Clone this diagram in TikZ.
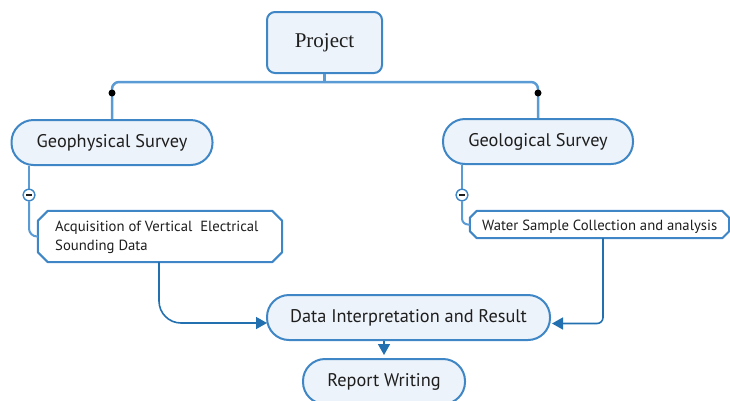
\documentclass[tikz,border=0pt]{standalone}
\usepackage{fontspec}
\setsansfont{PT Sans}
\newfontfamily\projfont{Liberation Serif}
\usetikzlibrary{arrows.meta,calc}
\definecolor{bord}{HTML}{3E86C6}
\definecolor{boxfill}{HTML}{EDF3FA}
\definecolor{linkc}{HTML}{5B9BD5}
\definecolor{arrc}{HTML}{2370B0}
\definecolor{txt}{HTML}{1E1E1E}
\tikzset{
  topbox/.style={draw=bord, line width=2pt, fill=boxfill, rounded corners=8pt,
    minimum width=115pt, minimum height=61pt, inner sep=0pt, text=txt,
    font=\projfont\fontsize{21}{24}\selectfont},
  pill/.style={draw=bord, line width=2pt, fill=boxfill, rounded corners=22pt,
    minimum height=45pt, inner sep=0pt, text=txt,
    font=\sffamily\fontsize{18.3}{21}\selectfont},
  octbox/.style={rectangle, inner sep=0pt, text=txt,
    font=\sffamily\fontsize{14.7}{19}\selectfont},
  octline/.style={draw=bord, line width=2pt, fill=white, line join=round},
  conn/.style={draw=linkc, line width=2.5pt},
  arr/.style={draw=arrc, line width=1.6pt, -{Triangle[length=11pt,width=12pt]}},
  minus/.style={circle, draw=bord, line width=1.3pt, fill=white, minimum size=11.5pt, inner sep=0pt},
  dotc/.style={circle, fill=black, minimum size=7pt, inner sep=0pt},
}
% octagon frame around a named node, chamfer #2
\newcommand\octframe[2]{%
  \path[octline] ($(#1.north west)+(#2,0)$) -- ($(#1.north east)+(-#2,0)$) --
    ($(#1.north east)+(0,#2)$) -- ($(#1.south east)+(0,-#2)$) --
    ($(#1.south east)+(-#2,0)$) -- ($(#1.south west)+(#2,0)$) --
    ($(#1.south west)+(0,-#2)$) -- ($(#1.north west)+(0,#2)$) -- cycle;}
\begin{document}
\begin{tikzpicture}[x=1pt, y={(0pt,-1pt)}]
\useasboundingbox (0,0) rectangle (730,400);
\clip (0,0) rectangle (730,400);
% nodes
\node[topbox] (proj) at (324.5,42.5) {Project};
\node[pill, minimum width=201pt] (gph) at (112,142.5) {Geophysical Survey};
\node[pill, minimum width=190pt] (glg) at (538,141.5) {Geological Survey};
\node[octbox, minimum width=244pt, minimum height=51pt] (acq) at (160,236.5) {};
\octframe{acq}{10}
\node[octbox, anchor=west, align=left] (acqt) at (55,237)
  {Acquisition of Vertical~ Electrical\\Sounding Data};
\node[octbox, minimum width=259pt, minimum height=27pt] (water) at (599.5,224.5) {};
\octframe{water}{7}
\node[octbox, anchor=west] (watert) at (482,227) {Water Sample Collection and analysis};
\node[pill, minimum width=283pt] (data) at (408.5,317.5) {Data Interpretation and Result};
\node[pill, minimum width=162pt] (rep) at (384,381.5) {Report Writing};
\node[minus] (m1) at (29,195) {};
\node[minus] (m2) at (462,195) {};
% helper coordinates
\coordinate (hub) at (324.5,82);
\coordinate (x1) at (159,0);
\coordinate (x2) at (603,0);
\coordinate (a1) at (267,323);
\coordinate (a2) at (552,323.5);
% hierarchy connectors
\draw[conn] (proj.south) -- (hub);
\draw[conn, rounded corners=7pt] (gph.north) |- (hub) -| (glg.north);
\node[dotc] (d1) at (112,93) {};
\node[dotc] (d2) at (538,93) {};
\draw[conn, line width=2pt] (gph.south -| m1) -- (m1);
\draw[conn, line width=2pt, rounded corners=8pt] (m1) |- (acq.west);
\draw[conn, line width=2pt] (glg.south -| m2) -- (m2);
\draw[conn, line width=2pt, rounded corners=6pt] (m2) |- (water.west);
\node[minus] at (m1) {};
\node[minus] at (m2) {};
\draw[txt, line width=1.2pt] ($(m1)+(-3,0)$) -- ($(m1)+(3,0)$);
\draw[txt, line width=1.2pt] ($(m2)+(-3,0)$) -- ($(m2)+(3,0)$);
% flow arrows
\draw[arr, rounded corners=22pt] (acq.south -| x1) |- (a1);
\draw[arr, rounded corners=6pt] (water.south -| x2) |- (a2);
\draw[arr, shorten >=3pt] (rep.north |- data.south) -- (rep.north);
\end{tikzpicture}
\end{document}
